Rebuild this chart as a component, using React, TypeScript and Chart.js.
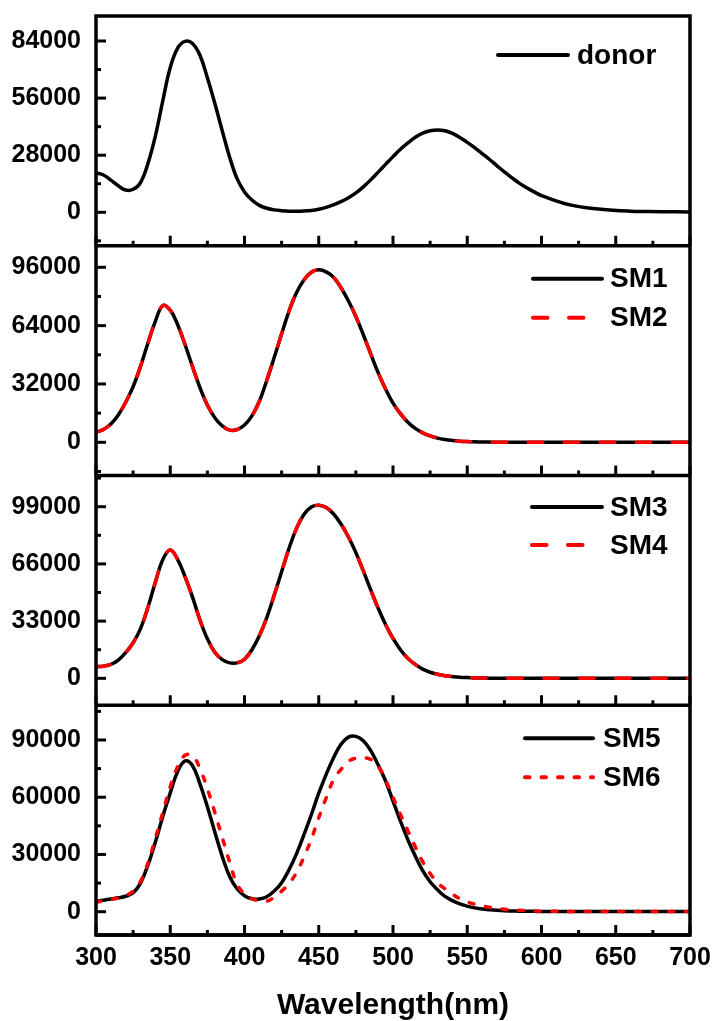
import React, { useEffect, useRef } from 'react';
import { Chart, registerables } from 'chart.js';

Chart.register(...registerables);

// ---------- data ----------
const wavelengths = [
  300, 305, 310, 315, 320, 325, 330, 335, 340, 345,
  350, 355, 360, 365, 370, 375, 380, 385, 390, 395,
  400, 405, 410, 415, 420, 425, 430, 435, 440, 445,
  450, 455, 460, 465, 470, 475, 480, 485, 490, 495,
  500, 505, 510, 515, 520, 525, 530, 535, 540, 545,
  550, 555, 560, 565, 570, 575, 580, 585, 590, 595,
  600, 620, 640, 660, 680, 700,
];

const donor = [
  19300, 18300, 15800, 13000, 10900, 11300, 14600, 24000, 37500, 54800,
  71000, 80500, 83800, 82800, 77000, 66000, 53500, 40000, 27000, 16500,
  10000, 6000, 3400, 2000, 1200, 800, 550, 500, 600, 900,
  1500, 2400, 3700, 5200, 7100, 9500, 12500, 15900, 19700, 23500,
  27300, 30900, 34000, 36800, 38800, 40000, 40400, 40000, 38700, 36700,
  34300, 31700, 28800, 25900, 22800, 19800, 17000, 14300, 12000, 10000,
  8200, 3500, 1450, 550, 300, 150,
];

const sm1 = [
  5500, 7000, 10000, 15000, 22000, 30500, 41700, 54500, 66500, 75000,
  72500, 64500, 53500, 41500, 30000, 20500, 13500, 9000, 6700, 7000,
  9500, 14500, 22500, 34000, 46500, 59500, 72000, 82000, 89000, 93300,
  94600, 93500, 90500, 84800, 77500, 69000, 59000, 48500, 38200, 29200,
  21500, 15700, 11000, 7600, 5200, 3500, 2300, 1500, 950, 600,
  380, 240, 150, 100, 70, 50, 40, 30, 25, 20,
  20, 10, 10, 10, 10, 10,
];

const sm2 = [
  5500, 7000, 10000, 15000, 22000, 30500, 41700, 54500, 66500, 75000,
  72500, 64500, 53500, 41500, 30000, 20500, 13500, 9000, 6700, 7000,
  9500, 14500, 22500, 34000, 46500, 59500, 72000, 82000, 89000, 93300,
  94600, 93500, 90500, 84800, 77500, 69000, 59000, 48500, 38200, 29200,
  21500, 15700, 11000, 7600, 5200, 3500, 2300, 1500, 950, 600,
  380, 240, 150, 100, 70, 50, 40, 30, 25, 20,
  20, 10, 10, 10, 10, 10,
];

const sm3 = [
  6700, 7000, 8000, 10500, 14800, 20500, 28700, 41000, 55500, 68500,
  74000, 68500, 58500, 46800, 33600, 22800, 15000, 10800, 8900, 8900,
  11000, 16500, 24500, 35000, 48000, 61500, 75000, 86500, 94500, 98800,
  99800, 98500, 94800, 89000, 81500, 72500, 62000, 51000, 40500, 31000,
  23000, 16500, 11500, 8000, 5300, 3500, 2300, 1500, 1000, 600,
  400, 250, 150, 100, 60, 40, 30, 20, 20, 10,
  10, 0, 0, 0, 0, 0,
];

const sm4 = [
  6700, 7000, 8000, 10500, 14800, 20500, 28700, 41000, 55500, 68500,
  74000, 68500, 58500, 46800, 33600, 22800, 15000, 10800, 8900, 8900,
  11000, 16500, 24500, 35000, 48000, 61500, 75000, 86500, 94500, 98800,
  99800, 98500, 94800, 89000, 81500, 72500, 62000, 51000, 40500, 31000,
  23000, 16500, 11500, 8000, 5300, 3500, 2300, 1500, 1000, 600,
  400, 250, 150, 100, 60, 40, 30, 20, 20, 10,
  10, 0, 0, 0, 0, 0,
];

const sm5 = [
  5400, 6000, 6700, 7300, 8100, 9900, 15000, 24500, 36500, 50000,
  62300, 73500, 79000, 76500, 67000, 55000, 41800, 29000, 18500, 12000,
  8400, 6800, 6700, 7800, 10800, 15200, 22000, 30300, 40300, 50800,
  62100, 72000, 80700, 87800, 91500, 91900, 89600, 84400, 77000, 68500,
  58000, 47500, 37700, 29200, 21500, 15700, 11500, 8000, 5800, 4100,
  2900, 2000, 1400, 1000, 700, 500, 400, 300, 250, 200,
  150, 100, 100, 100, 100, 100,
];

const sm6 = [
  5000, 5700, 6400, 7200, 8500, 10800, 15900, 25500, 38500, 52000,
  65500, 76000, 82000, 81800, 75000, 64500, 52000, 39000, 26000, 14500,
  9300, 6800, 5700, 5500, 7600, 10800, 14800, 20500, 28600, 38000,
  49300, 59600, 69200, 74600, 78800, 80500, 80700, 79800, 76200, 69000,
  60000, 51000, 42500, 34000, 26200, 20000, 15200, 12000, 9200, 6800,
  5100, 4000, 3100, 2300, 1800, 1300, 900, 700, 500, 350,
  250, 150, 100, 100, 100, 100,
];

const xTicks = [300, 350, 400, 450, 500, 550, 600, 650, 700];
const yTicks1 = [0, 28000, 56000, 84000];
const yTicks2 = [0, 32000, 64000, 96000];
const yTicks3 = [0, 33000, 66000, 99000];
const yTicks4 = [0, 30000, 60000, 90000];

// ---------- styling / layout ----------
const FONT = '"Liberation Sans", Arial, Helvetica, sans-serif';
const BLACK = '#000000';
const RED = '#ff0000';
const DASH = [14.5, 21.5];
const DOT = [5, 11.7];

const panels = [
  { id: 'y1', min: -16400, max: 96260, ticks: yTicks1, weight: 4,
    legend: { x1: 498, x2: 568, tx: 577, items: [{ label: 'donor', color: BLACK, dash: [], dy: 39 }] } },
  { id: 'y2', min: -18210, max: 107820, ticks: yTicks2, weight: 3,
    legend: { x1: 533, x2: 602, tx: 610, items: [
      { label: 'SM1', color: BLACK, dash: [], dy: 33 },
      { label: 'SM2', color: RED, dash: [14.5, 21.5], dy: 72 }] } },
  { id: 'y3', min: -15540, max: 117000, ticks: yTicks3, weight: 2,
    legend: { x1: 532, x2: 602, tx: 610, items: [
      { label: 'SM3', color: BLACK, dash: [], dy: 31.5 },
      { label: 'SM4', color: RED, dash: [14.5, 21.5], dy: 69.5 }] } },
  { id: 'y4', min: -12210, max: 108200, ticks: yTicks4, weight: 1,
    legend: { x1: 525, x2: 593, tx: 603, items: [
      { label: 'SM5', color: BLACK, dash: [], dy: 33 },
      { label: 'SM6', color: RED, dash: [4.5, 12], dy: 72 }] } },
];

const series = [
  { label: 'donor', values: donor, axis: 'y1', color: BLACK, dash: [], order: 2 },
  { label: 'SM1', values: sm1, axis: 'y2', color: BLACK, dash: [], order: 2 },
  { label: 'SM2', values: sm2, axis: 'y2', color: RED, dash: DASH, order: 1 },
  { label: 'SM3', values: sm3, axis: 'y3', color: BLACK, dash: [], order: 2 },
  { label: 'SM4', values: sm4, axis: 'y3', color: RED, dash: DASH, order: 1 },
  { label: 'SM5', values: sm5, axis: 'y4', color: BLACK, dash: [], order: 2 },
  { label: 'SM6', values: sm6, axis: 'y4', color: RED, dash: DOT, order: 1 },
];

const framePlugin = {
  id: 'frame',
  afterDatasetsDraw(chart: any) {
    const { ctx, chartArea } = chart;
    const { left, right, top, bottom } = chartArea;
    const xs = chart.scales.x;
    const xStep = xTicks[1] - xTicks[0];
    const xMinor = xStep / 2;
    const seg = (x1: number, y1: number, x2: number, y2: number) => {
      ctx.beginPath();
      ctx.moveTo(x1, y1);
      ctx.lineTo(x2, y2);
      ctx.stroke();
    };
    ctx.save();
    ctx.strokeStyle = BLACK;
    ctx.lineCap = 'butt';
    ctx.setLineDash([]);
    panels.forEach((p) => {
      const s = chart.scales[p.id];
      const step = p.ticks[1] - p.ticks[0];
      const minor = step / 2;
      ctx.lineWidth = 3;
      for (let v = Math.ceil(s.min / minor) * minor; v <= s.max; v += minor) {
        const py = s.getPixelForValue(v);
        const isMajor = Math.abs(Math.round(v / step) * step - v) < 1e-6;
        seg(left, py, left + (isMajor ? 10 : 5), py);
      }
      for (let v = xs.min; v <= xs.max; v += xMinor) {
        const px = xs.getPixelForValue(v);
        const isMajor = Math.abs(Math.round(v / xStep) * xStep - v) < 1e-6;
        seg(px, s.bottom, px, s.bottom - (isMajor ? 10 : 5));
      }
      ctx.lineWidth = 3.5;
      seg(left, s.bottom, right, s.bottom);
    });
    ctx.lineWidth = 3.5;
    ctx.strokeRect(left, top, right - left, bottom - top);

    // legends
    ctx.font = `bold 28px ${FONT}`;
    ctx.textBaseline = 'middle';
    ctx.textAlign = 'left';
    panels.forEach((p) => {
      const s = chart.scales[p.id];
      const lg = p.legend;
      lg.items.forEach((it) => {
        const y = s.top + it.dy;
        ctx.strokeStyle = it.color;
        ctx.lineWidth = 4;
        ctx.lineCap = 'round';
        ctx.setLineDash(it.dash);
        seg(lg.x1, y, lg.x2, y);
        ctx.setLineDash([]);
        ctx.fillStyle = BLACK;
        ctx.fillText(it.label, lg.tx, y + 1);
      });
    });
    ctx.restore();
  },
};

export default function App() {
  const ref = useRef<HTMLCanvasElement | null>(null);

  useEffect(() => {
    document.body.style.margin = '0';
    document.body.style.overflow = 'hidden';
    const canvas = ref.current;
    if (!canvas) return;

    const tickFont = { family: FONT, size: 25, weight: 'bold' as const };

    const scales: any = {
      x: {
        type: 'linear',
        position: 'bottom',
        min: 300,
        max: 700,
        grid: { display: false, drawTicks: false },
        border: { display: false },
        ticks: {
          color: BLACK,
          font: tickFont,
          padding: 8,
          maxRotation: 0,
          autoSkip: false,
          callback: (v: any) => String(v),
        },
        afterBuildTicks: (scale: any) => {
          scale.ticks = xTicks.map((v) => ({ value: v }));
        },
        afterFit: (scale: any) => {
          scale.height = 86;
          scale.paddingLeft = 0;
          scale.paddingRight = 0;
        },
        title: {
          display: true,
          text: 'Wavelength(nm)',
          color: BLACK,
          font: { family: FONT, size: 30, weight: 'bold', lineHeight: 1 },
          padding: 0,
        },
      },
    };

    panels.forEach((p) => {
      scales[p.id] = {
        type: 'linear',
        position: 'left',
        stack: 'panels',
        stackWeight: 1,
        weight: p.weight,
        min: p.min,
        max: p.max,
        grid: { display: false, drawTicks: false },
        border: { display: false },
        ticks: {
          color: BLACK,
          font: tickFont,
          padding: 15,
          autoSkip: false,
          callback: (v: any) => String(v),
        },
        afterBuildTicks: (scale: any) => {
          scale.ticks = p.ticks.map((v) => ({ value: v }));
        },
        afterFit: (scale: any) => {
          scale.width = 96;
          scale.paddingTop = 0;
          scale.paddingBottom = 0;
        },
      };
    });

    const chart = new Chart(canvas, {
      type: 'line',
      data: {
        datasets: series.map((s) => ({
          label: s.label,
          data: wavelengths.map((w, i) => ({ x: w, y: s.values[i] })),
          xAxisID: 'x',
          yAxisID: s.axis,
          borderColor: s.color,
          backgroundColor: s.color,
          borderWidth: 3.5,
          borderDash: s.dash,
          borderCapStyle: 'round',
          borderJoinStyle: 'round',
          pointRadius: 0,
          pointHoverRadius: 0,
          fill: false,
          tension: 0.4,
          order: s.order,
        })),
      },
      options: {
        responsive: false,
        animation: false,
        devicePixelRatio: 1,
        layout: { padding: { top: 16, right: 22, left: 0, bottom: 0 } },
        plugins: {
          legend: { display: false },
          tooltip: { enabled: false },
          title: { display: false },
        },
        events: [],
        scales,
      },
      plugins: [framePlugin],
    } as any);

    return () => chart.destroy();
  }, []);

  return (
    <div style={{ width: 712, height: 1021, background: '#ffffff' }}>
      <canvas ref={ref} width={712} height={1021} style={{ display: 'block' }} />
    </div>
  );
}
